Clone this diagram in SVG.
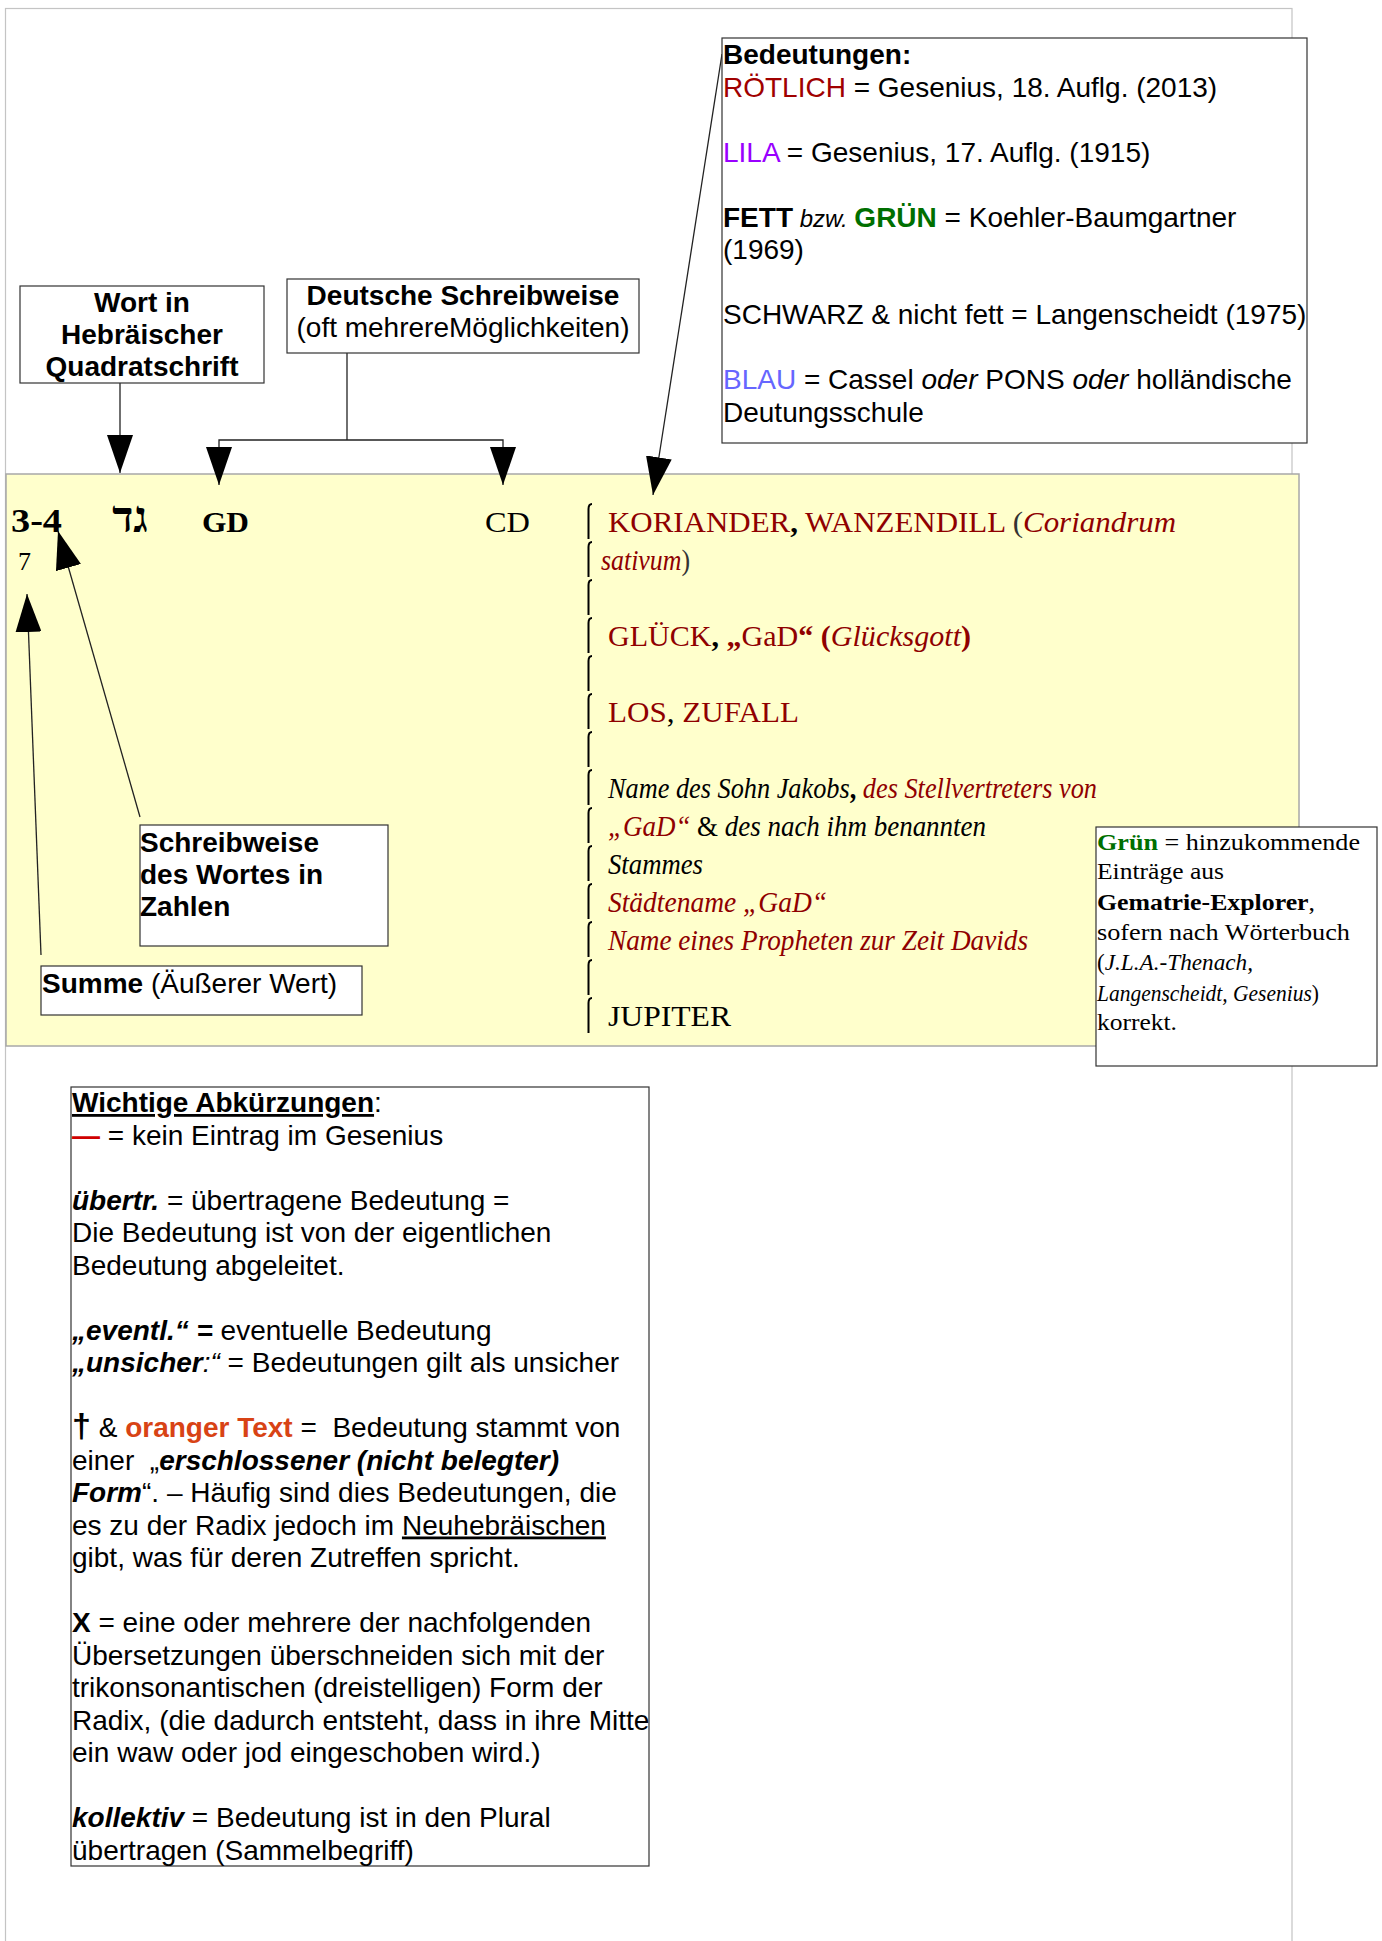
<svg xmlns="http://www.w3.org/2000/svg" xmlns:xlink="http://www.w3.org/1999/xlink" width="1382" height="1941" viewBox="0 0 1382 1941">
<defs>
<style>
.sans{font-family:"Liberation Sans",Arial,sans-serif;font-size:28px;fill:#000}
.serif{font-family:"Liberation Serif","Times New Roman",serif;fill:#000}
.b{font-weight:bold}
.i{font-style:italic}
.u{text-decoration:underline}
.red{fill:#8f0000}
.box{fill:#fff;stroke:#333;stroke-width:1.2}
.conn{fill:none;stroke:#222;stroke-width:1.3}
.brk{fill:none;stroke:#000;stroke-width:2}
</style>
<marker id="ah" markerUnits="userSpaceOnUse" markerWidth="38" markerHeight="26" viewBox="0 0 38 26" refX="38" refY="13" orient="auto">
<path d="M0,0 L38,13 L0,26 z" fill="#000"/>
</marker>
<path id="br" class="brk" d="M5,0 C2,0 1.5,2 1.5,5 V35"/>
</defs>

<rect x="0" y="0" width="1382" height="1941" fill="#fff"/>
<rect x="5.5" y="8.5" width="1286.5" height="2000" fill="none" stroke="#c4c4c4" stroke-width="1.2"/>

<g id="band">
<rect x="6" y="474" width="1293" height="572" fill="#ffffcc" stroke="#a8a8a8" stroke-width="1.5"/>
</g>

<g id="entry">
<text class="serif b" x="11" y="532" font-size="34" textLength="51" lengthAdjust="spacingAndGlyphs">3-4</text>
<text class="serif" x="18" y="570" font-size="26" fill="#333">7</text>
<text class="serif b" x="130" y="532" font-size="44" text-anchor="middle">גד</text>
<text class="serif b" x="202" y="532" font-size="30" textLength="47" lengthAdjust="spacingAndGlyphs">GD</text>
<text class="serif" x="485" y="532" font-size="30" textLength="45" lengthAdjust="spacingAndGlyphs">CD</text>
</g>

<g id="brackets">
<use xlink:href="#br" x="587" y="504"/>
<use xlink:href="#br" x="587" y="542"/>
<use xlink:href="#br" x="587" y="580"/>
<use xlink:href="#br" x="587" y="618"/>
<use xlink:href="#br" x="587" y="656"/>
<use xlink:href="#br" x="587" y="694"/>
<use xlink:href="#br" x="587" y="732"/>
<use xlink:href="#br" x="587" y="770"/>
<use xlink:href="#br" x="587" y="808"/>
<use xlink:href="#br" x="587" y="846"/>
<use xlink:href="#br" x="587" y="884"/>
<use xlink:href="#br" x="587" y="922"/>
<use xlink:href="#br" x="587" y="960"/>
<use xlink:href="#br" x="587" y="998"/>
</g>

<g id="meanings" class="serif" font-size="30">
<text x="608" y="532" textLength="568" lengthAdjust="spacingAndGlyphs"><tspan class="red">KORIANDER</tspan><tspan class="b">,</tspan><tspan class="red"> WANZENDILL </tspan><tspan fill="#333">(</tspan><tspan class="red i">Coriandrum</tspan></text>
<text x="601" y="570" textLength="89" lengthAdjust="spacingAndGlyphs"><tspan class="red i">sativum</tspan><tspan fill="#333">)</tspan></text>
<text x="608" y="646" textLength="363" lengthAdjust="spacingAndGlyphs"><tspan class="red">GLÜCK</tspan><tspan class="b">,</tspan><tspan class="red b"> „</tspan><tspan class="red">GaD</tspan><tspan class="red b">“ (</tspan><tspan class="red i">Glücksgott</tspan><tspan class="red b">)</tspan></text>
<text x="608" y="722" textLength="191" lengthAdjust="spacingAndGlyphs"><tspan class="red">LOS</tspan>,<tspan class="red"> ZUFALL</tspan></text>
<text x="608" y="798" textLength="489" lengthAdjust="spacingAndGlyphs"><tspan class="i">Name des Sohn Jakobs</tspan><tspan class="b">,</tspan><tspan class="red i"> des Stellvertreters von</tspan></text>
<text x="608" y="836" textLength="378" lengthAdjust="spacingAndGlyphs"><tspan class="red i">„GaD“</tspan><tspan> &amp; </tspan><tspan class="i">des nach ihm benannten</tspan></text>
<text x="608" y="874" textLength="95" lengthAdjust="spacingAndGlyphs" class="i">Stammes</text>
<text x="608" y="912" textLength="219" lengthAdjust="spacingAndGlyphs" class="red i">Städtename „GaD“</text>
<text x="608" y="950" textLength="420" lengthAdjust="spacingAndGlyphs" class="red i">Name eines Propheten zur Zeit Davids</text>
<text x="608" y="1026" textLength="123" lengthAdjust="spacingAndGlyphs">JUPITER</text>
</g>

<g id="connectors">
<path class="conn" d="M120,348 V473" marker-end="url(#ah)"/>
<path class="conn" d="M347,353 V440"/>
<path class="conn" d="M347,440 H219 V485" marker-end="url(#ah)"/>
<path class="conn" d="M347,440 H503 V485" marker-end="url(#ah)"/>
<path class="conn" d="M722,54 L653,495" marker-end="url(#ah)"/>
<path class="conn" d="M140,817 L58,531" marker-end="url(#ah)"/>
<path class="conn" d="M41,955 L27,594" marker-end="url(#ah)"/>
</g>

<g id="wort">
<rect class="box" x="20" y="286" width="244" height="97"/>
<text class="sans b" x="142" y="312" text-anchor="middle">Wort in</text>
<text class="sans b" x="142" y="344" text-anchor="middle">Hebräischer</text>
<text class="sans b" x="142" y="376" text-anchor="middle">Quadratschrift</text>
</g>

<g id="deutsche">
<rect class="box" x="287" y="279" width="352" height="74"/>
<text class="sans b" x="463" y="305" text-anchor="middle">Deutsche Schreibweise</text>
<text class="sans" x="463" y="337" text-anchor="middle">(oft mehrereMöglichkeiten)</text>
</g>

<g id="bedeutungen">
<rect class="box" x="722" y="38" width="585" height="405"/>
<g class="sans">
<text x="723" y="64" class="b">Bedeutungen:</text>
<text x="723" y="96.5"><tspan fill="#a00000">RÖTLICH</tspan> = Gesenius, 18. Auflg. (2013)</text>
<text x="723" y="161.5"><tspan fill="#9900ff">LILA</tspan> = Gesenius, 17. Auflg. (1915)</text>
<text x="723" y="226.5"><tspan class="b">FETT</tspan><tspan class="i" font-size="24"> bzw. </tspan><tspan class="b" fill="#006f00">GRÜN</tspan> = Koehler-Baumgartner</text>
<text x="723" y="259">(1969)</text>
<text x="723" y="324">SCHWARZ &amp; nicht fett = Langenscheidt (1975)</text>
<text x="723" y="389"><tspan fill="#6666ff">BLAU</tspan> = Cassel <tspan class="i">oder</tspan> PONS <tspan class="i">oder</tspan> holländische</text>
<text x="723" y="421.5">Deutungsschule</text>
</g>
</g>

<g id="schreibweise">
<rect class="box" x="140" y="825" width="248" height="121"/>
<text class="sans b" x="140" y="852">Schreibweise</text>
<text class="sans b" x="140" y="884">des Wortes in</text>
<text class="sans b" x="140" y="916">Zahlen</text>
</g>

<g id="summe">
<rect class="box" x="41" y="966" width="321" height="49"/>
<text class="sans" x="42" y="993"><tspan class="b">Summe</tspan> (Äußerer Wert)</text>
</g>

<g id="gruen">
<rect class="box" x="1096" y="827" width="281" height="239"/>
<g class="serif" font-size="24">
<text x="1097" y="850" textLength="263" lengthAdjust="spacingAndGlyphs"><tspan class="b" fill="#006f00">Grün</tspan> = hinzukommende</text>
<text x="1097" y="879" textLength="127" lengthAdjust="spacingAndGlyphs">Einträge aus</text>
<text x="1097" y="910" textLength="218" lengthAdjust="spacingAndGlyphs"><tspan class="b">Gematrie-Explorer</tspan>,</text>
<text x="1097" y="940" textLength="253" lengthAdjust="spacingAndGlyphs">sofern nach Wörterbuch</text>
<text x="1097" y="970" textLength="156" lengthAdjust="spacingAndGlyphs">(<tspan class="i">J.L.A.-Thenach,</tspan></text>
<text x="1097" y="1001" textLength="222" lengthAdjust="spacingAndGlyphs"><tspan class="i">Langenscheidt, Gesenius</tspan>)</text>
<text x="1097" y="1030" textLength="80" lengthAdjust="spacingAndGlyphs">korrekt.</text>
</g>
</g>

<g id="abkuerzungen">
<rect class="box" x="71" y="1087" width="578" height="779"/>
<g class="sans">
<text x="72" y="1112"><tspan class="b u">Wichtige Abkürzungen</tspan>:</text>
<text x="72" y="1144.5"><tspan fill="#d00000" class="b">—</tspan> = kein Eintrag im Gesenius</text>
<text x="72" y="1209.5"><tspan class="b i">übertr.</tspan> = übertragene Bedeutung =</text>
<text x="72" y="1242">Die Bedeutung ist von der eigentlichen</text>
<text x="72" y="1274.5">Bedeutung abgeleitet.</text>
<text x="72" y="1339.5"><tspan class="b i">„eventl.“ =</tspan> eventuelle Bedeutung</text>
<text x="72" y="1372"><tspan class="b i">„unsicher</tspan><tspan class="i">:“</tspan> = Bedeutungen gilt als unsicher</text>
<text x="72" y="1437" xml:space="preserve"><tspan class="b" font-size="34">†</tspan> &amp; <tspan class="b" fill="#d84315">oranger Text</tspan> =  Bedeutung stammt von</text>
<text x="72" y="1469.5" xml:space="preserve">einer  „<tspan class="b i">erschlossener (nicht belegter)</tspan></text>
<text x="72" y="1502"><tspan class="b i">Form</tspan>“. – Häufig sind dies Bedeutungen, die</text>
<text x="72" y="1534.5">es zu der Radix jedoch im <tspan class="u">Neuhebräischen</tspan></text>
<text x="72" y="1567">gibt, was für deren Zutreffen spricht.</text>
<text x="72" y="1632"><tspan class="b">X</tspan> = eine oder mehrere der nachfolgenden</text>
<text x="72" y="1664.5">Übersetzungen überschneiden sich mit der</text>
<text x="72" y="1697">trikonsonantischen (dreistelligen) Form der</text>
<text x="72" y="1729.5">Radix, (die dadurch entsteht, dass in ihre Mitte</text>
<text x="72" y="1762">ein waw oder jod eingeschoben wird.)</text>
<text x="72" y="1827"><tspan class="b i">kollektiv</tspan> = Bedeutung ist in den Plural</text>
<text x="72" y="1859.5">übertragen (Sammelbegriff)</text>
</g>
</g>
</svg>
